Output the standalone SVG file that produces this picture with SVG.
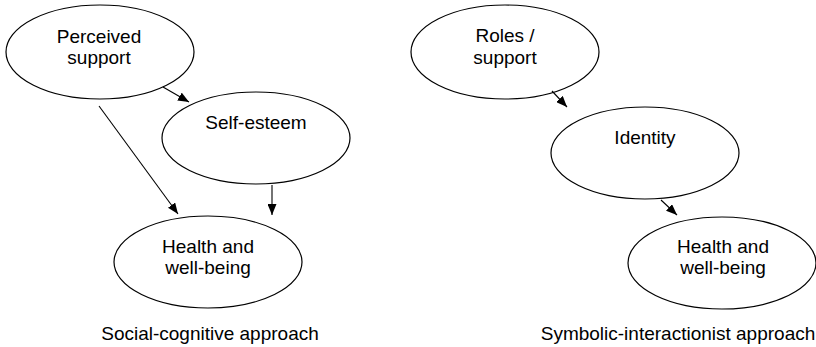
<svg xmlns="http://www.w3.org/2000/svg" width="816" height="347" viewBox="0 0 816 347">
<style>
.n ellipse{fill:#fff;stroke:#000;stroke-width:1.2}
text{font-family:"Liberation Sans",Arial,sans-serif;font-size:19px;fill:#000;text-anchor:middle}
.c line{stroke:#000;stroke-width:1.1;marker-end:url(#ah)}
</style>
<defs>
<marker id="ah" markerUnits="userSpaceOnUse" markerWidth="11" markerHeight="9" refX="11" refY="4.5" orient="auto">
<path d="M0,0 L11,4.5 L0,9 z" fill="#000"/>
</marker>
</defs>
<g id="perceived" class="n"><ellipse cx="100" cy="52" rx="94" ry="47"/><text x="99" y="43">Perceived</text><text x="99" y="64">support</text></g>
<g id="selfesteem" class="n"><ellipse cx="256" cy="138" rx="94" ry="46"/><text x="256" y="129">Self-esteem</text></g>
<g id="health1" class="n"><ellipse cx="208" cy="262" rx="94" ry="46"/><text x="208" y="253">Health and</text><text x="208" y="274">well-being</text></g>
<g id="roles" class="n"><ellipse cx="505" cy="52" rx="94" ry="47"/><text x="505" y="42">Roles /</text><text x="505" y="64">support</text></g>
<g id="identity" class="n"><ellipse cx="645" cy="153" rx="94" ry="46"/><text x="645" y="144">Identity</text></g>
<g id="health2" class="n"><ellipse cx="722" cy="263" rx="94" ry="46"/><text x="723" y="253">Health and</text><text x="723" y="274">well-being</text></g>
<g id="connectors" class="c">
<line x1="163" y1="87" x2="189" y2="102"/>
<line x1="99" y1="106" x2="178" y2="214"/>
<line x1="272" y1="185" x2="272" y2="215"/>
<line x1="552" y1="91" x2="567" y2="107"/>
<line x1="661" y1="200" x2="677" y2="215"/>
</g>
<g id="captions"><text x="210" y="340">Social-cognitive approach</text><text x="678" y="340">Symbolic-interactionist approach</text></g>
</svg>
